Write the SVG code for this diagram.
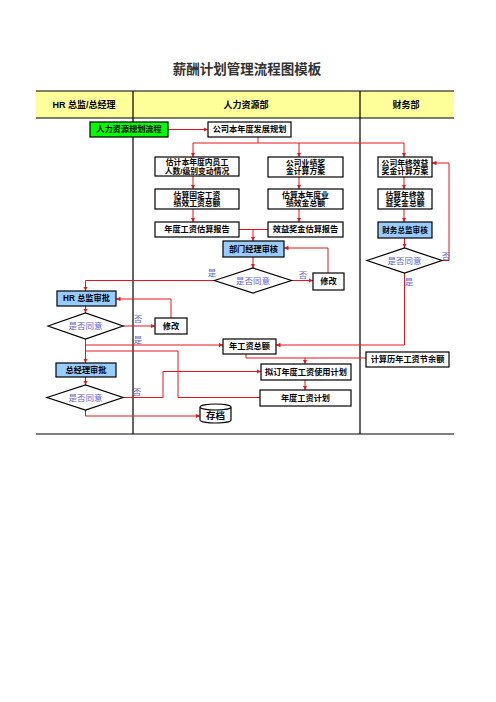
<svg xmlns="http://www.w3.org/2000/svg" width="496" height="702" viewBox="0 0 496 702">
<defs>
<marker id="ar" viewBox="0 0 8 8" refX="8" refY="4" markerWidth="4.5" markerHeight="4.5" orient="auto" markerUnits="userSpaceOnUse">
<path d="M0,0 L8,4 L0,8 z" fill="#E8141B"/>
</marker>
<style>
.box{fill:#fff;stroke:#000;stroke-width:1.2}
.blue{fill:#99CCFF}
.green{fill:#00FF00}
.t{font-family:"Liberation Sans","Noto Sans CJK SC",sans-serif;font-size:8.2px;font-weight:bold;text-anchor:middle;dominant-baseline:central;fill:#000}
.m{font-family:"Liberation Sans","Noto Sans CJK SC",sans-serif;font-size:7.8px;font-weight:bold;text-anchor:middle;fill:#000}
.q{font-family:"Liberation Sans","Noto Sans CJK SC",sans-serif;font-size:8.5px;fill:#6666CC;text-anchor:middle}
.ln{stroke:#E8141B;fill:none;stroke-width:1}
.la{stroke:#E8141B;fill:none;stroke-width:1;marker-end:url(#ar)}
.lane{stroke:#000;stroke-width:1.2;fill:none}
.hd{font-family:"Liberation Sans","Noto Sans CJK SC",sans-serif;font-size:9px;font-weight:bold;text-anchor:middle;dominant-baseline:central;fill:#000}
</style>
</defs>
<rect width="496" height="702" fill="#fff"/>
<text x="247" y="68" font-family="'Noto Sans CJK SC',sans-serif" font-size="13.5" font-weight="bold" fill="#333" text-anchor="middle" dominant-baseline="central">薪酬计划管理流程图模板</text>
<g id="lanes">
<rect x="36" y="91" width="418" height="27" fill="#FFFF99"/>
<path class="lane" d="M36,91 H454 M36,118 H454 M133,91 V434 M360,91 V434 M36,434 H454"/>
<text class="hd" x="84" y="105">HR 总监/总经理</text>
<text class="hd" x="246" y="105">人力资源部</text>
<text class="hd" x="406" y="105">财务部</text>
</g>
<g id="connectors">
<path class="la" d="M168,129.5 H208"/>
<path class="ln" d="M258,137 V143 M193,143 H404"/>
<path class="la" d="M193,143 V157"/>
<path class="la" d="M299,143 V157"/>
<path class="la" d="M404,143 V157"/>
<path class="la" d="M193,176 V189"/>
<path class="la" d="M193,209 V222"/>
<path class="la" d="M299,177 V189"/>
<path class="la" d="M299,209 V222"/>
<path class="la" d="M404,177 V189"/>
<path class="la" d="M404,209 V222"/>
<path class="ln" d="M239,229.5 H268"/>
<path class="la" d="M253,229.5 V241"/>
<path class="la" d="M253,257 V268"/>
<path class="la" d="M291.5,280.5 H313"/>
<path class="la" d="M328,273 V248 H284"/>
<path class="la" d="M214.5,280.5 H85.5 V291"/>
<path class="la" d="M85.5,306 V313"/>
<path class="la" d="M123,326 H155"/>
<path class="la" d="M171,318 V299 H116"/>
<path class="la" d="M85.5,339 V363"/>
<path class="la" d="M85.5,345 H223"/>
<path class="ln" d="M85.5,351 H178 V397.5 H260"/>
<path class="la" d="M85.5,377 V385"/>
<path class="la" d="M123,397.5 H163 V371.5 H261"/>
<path class="la" d="M85.5,410 V416 H200"/>
<path class="ln" d="M246,354 V358 H366"/>
<path class="la" d="M305,358 V364"/>
<path class="la" d="M305,380 V390"/>
<path class="la" d="M404.5,238 V248"/>
<path class="la" d="M404.5,273 V345 H276"/>
<path class="la" d="M442,260.5 H449 V163 H432"/>
<text class="q" x="212" y="276">是</text>
<text class="q" x="303" y="278">否</text>
<text class="q" x="138" y="322">否</text>
<text class="q" x="138" y="343">是</text>
<text class="q" x="137" y="395">否</text>
<text class="q" x="446" y="259">否</text>
<text class="q" x="409" y="285">是</text>
</g>
<g id="n_hrplan"><rect class="box green" x="90" y="122" width="78" height="15"/><text class="t" x="129" y="129.5">人力资源规划流程</text></g>
<g id="n_plan"><rect class="box" x="208" y="122" width="83" height="15"/><text class="t" x="249.5" y="129.5">公司本年度发展规划</text></g>
<g id="n_est1"><rect class="box" x="155" y="157" width="84" height="19"/><text class="m" x="197" y="165"><tspan x="197">估计本年度内员工</tspan><tspan x="197" dy="8.8">人数/级别变动情况</tspan></text></g>
<g id="n_est2"><rect class="box" x="155" y="189" width="84" height="20"/><text class="m" x="197" y="197.5"><tspan x="197">估算固定工资</tspan><tspan x="197" dy="8.8">绩效工资总额</tspan></text></g>
<g id="n_rep1"><rect class="box" x="155" y="222" width="84" height="15"/><text class="t" x="197" y="229.5">年度工资估算报告</text></g>
<g id="n_bonus1"><rect class="box" x="268" y="157" width="75" height="20"/><text class="m" x="305.5" y="165.5"><tspan x="305.5">公司业绩奖</tspan><tspan x="305.5" dy="8.8">金计算方案</tspan></text></g>
<g id="n_bonus2"><rect class="box" x="268" y="189" width="75" height="20"/><text class="m" x="305.5" y="197.5"><tspan x="305.5">估算本年度业</tspan><tspan x="305.5" dy="8.8">绩效金总额</tspan></text></g>
<g id="n_rep2"><rect class="box" x="268" y="222" width="75" height="15"/><text class="t" x="305.5" y="229.5">效益奖金估算报告</text></g>
<g id="n_fin1"><rect class="box" x="378" y="157" width="54" height="20"/><text class="m" x="405" y="165.5"><tspan x="405">公司年终效益</tspan><tspan x="405" dy="8.8">奖金计算方案</tspan></text></g>
<g id="n_fin2"><rect class="box" x="378" y="189" width="54" height="20"/><text class="m" x="405" y="197.5"><tspan x="405">估算年终效</tspan><tspan x="405" dy="8.8">益奖金总额</tspan></text></g>
<g id="n_fin3"><rect class="box blue" x="378" y="222" width="54" height="16"/><text class="t" x="405" y="230" style="font-size:7.6px">财务总监审核</text></g>
<g id="n_mgr"><rect class="box blue" x="223" y="241" width="61" height="16"/><text class="t" x="253.5" y="249">部门经理审核</text></g>
<g id="d_mgr"><polygon class="box" points="214.5,280.5 253,268 291.5,280.5 253,293"/><text class="q" x="253" y="283.5">是否同意</text></g>
<g id="n_mod1"><rect class="box" x="313" y="273" width="31" height="17"/><text class="t" x="328.5" y="281.5">修改</text></g>
<g id="d_fin"><polygon class="box" points="367,260.5 404.5,248 442,260.5 404.5,273"/><text class="q" x="404.5" y="263.5">是否同意</text></g>
<g id="n_hr"><rect class="box blue" x="57" y="291" width="59" height="15"/><text class="t" x="86.5" y="298.5">HR 总监审批</text></g>
<g id="d_hr"><polygon class="box" points="48,326 85.5,313 123,326 85.5,339"/><text class="q" x="85.5" y="329">是否同意</text></g>
<g id="n_mod2"><rect class="box" x="155" y="318" width="32" height="16"/><text class="t" x="171" y="326">修改</text></g>
<g id="n_total"><rect class="box" x="223" y="339" width="53" height="15"/><text class="t" x="249.5" y="346.5">年工资总额</text></g>
<g id="n_calc"><rect class="box" x="366" y="352" width="83" height="15"/><text class="t" x="407.5" y="359.5">计算历年工资节余额</text></g>
<g id="n_ceo"><rect class="box blue" x="56" y="363" width="60" height="14"/><text class="t" x="86" y="370">总经理审批</text></g>
<g id="d_ceo"><polygon class="box" points="47,397.5 85.5,385 123,397.5 85.5,410"/><text class="q" x="85.5" y="400.5">是否同意</text></g>
<g id="n_draft"><rect class="box" x="261" y="364" width="90" height="16"/><text class="t" x="306" y="372">拟订年度工资使用计划</text></g>
<g id="n_annual"><rect class="box" x="260" y="390" width="91" height="16"/><text class="t" x="305.5" y="398">年度工资计划</text></g>
<g id="n_archive"><path class="box" d="M200,407 V420 A15.5,3 0 0 0 231,420 V407 A15.5,3 0 0 0 200,407 A15.5,3 0 0 0 231,407"/><text class="t" x="215.5" y="415" style="font-size:9.5px">存档</text></g>
</svg>
